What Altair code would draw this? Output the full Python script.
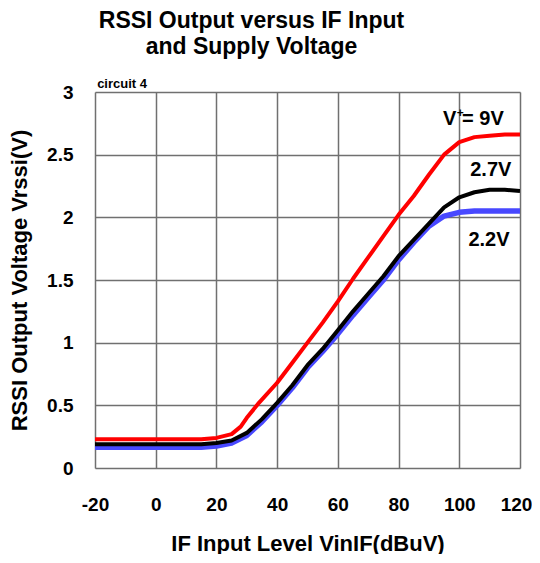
import altair as alt
import pandas as pd

# ---- data ----
x_9v = [-20, 0, 15, 20, 25, 28, 30, 34, 40, 45, 50, 55, 60, 65, 70, 75, 80, 85, 90, 95, 100, 105, 110, 115, 120]
y_9v = [0.23, 0.23, 0.23, 0.24, 0.27, 0.33, 0.40, 0.52, 0.68, 0.84, 1.00, 1.16, 1.33, 1.51, 1.68, 1.85, 2.02, 2.17, 2.34, 2.50, 2.60, 2.64, 2.65, 2.66, 2.66]

x_27v = [-20, 0, 15, 20, 25, 30, 35, 40, 45, 50, 55, 60, 65, 70, 75, 80, 85, 90, 95, 100, 105, 110, 115, 120]
y_27v = [0.19, 0.19, 0.19, 0.20, 0.22, 0.28, 0.39, 0.52, 0.66, 0.82, 0.95, 1.10, 1.25, 1.39, 1.53, 1.69, 1.82, 1.95, 2.08, 2.16, 2.20, 2.22, 2.22, 2.21]

x_22v = [-20, 0, 15, 20, 25, 30, 35, 40, 45, 50, 55, 60, 65, 70, 75, 80, 85, 90, 95, 100, 105, 110, 115, 120]
y_22v = [0.165, 0.165, 0.165, 0.175, 0.20, 0.26, 0.37, 0.50, 0.64, 0.80, 0.93, 1.07, 1.22, 1.36, 1.50, 1.66, 1.80, 1.93, 2.01, 2.04, 2.05, 2.05, 2.05, 2.05]

series_names = ["2.2V", "2.7V", "9V"]
series_colors = ["#4848ff", "#000000", "#ff0000"]

x_ticks = [-20, 0, 20, 40, 60, 80, 100, 120]
y_ticks = [0, 0.5, 1, 1.5, 2, 2.5, 3]

ann_text = ["V", "+", "= 9V", "2.7V", "2.2V"]
ann_x = [94.6, 99.2, 100.9, 103.6, 103.0]
ann_y = [2.74, 2.80, 2.74, 2.33, 1.77]
ann_size = [20, 12, 20, 20, 20]

FONT = "Liberation Sans"

rows = []
for name, xs, ys in [("2.2V", x_22v, y_22v), ("2.7V", x_27v, y_27v), ("9V", x_9v, y_9v)]:
    for i, (a, b) in enumerate(zip(xs, ys)):
        rows.append({"series": name, "x": a, "y": b, "order": i})
df = pd.DataFrame(rows)

ann = pd.DataFrame({"text": ann_text, "x": ann_x, "y": ann_y, "size": ann_size})
circ = pd.DataFrame({"text": ["circuit 4"], "x": [-19.3], "y": [3.0]})

xscale = alt.Scale(domain=[-20, 120], nice=False, zero=False)
yscale = alt.Scale(domain=[0, 3], nice=False)

xaxis = alt.Axis(values=x_ticks, title="IF Input Level VinIF(dBuV)", labelFont=FONT,
                 labelFontSize=19, labelFontWeight="bold", labelColor="#000",
                 labelExpr="'' + datum.value",
                 labelOffset={"condition": {"test": "datum.value == 120", "value": -4}, "value": 0},
                 titleFont=FONT, titleFontSize=22, titleFontWeight="bold", titleColor="#000",
                 labelPadding=27, titlePadding=19, tickSize=0, domain=False,
                 grid=True, gridColor="#707070", gridWidth=1.5, labelFlush=False)
yaxis = alt.Axis(values=y_ticks, title="RSSI Output Voltage Vrssi(V)", labelFont=FONT,
                 labelFontSize=19, labelFontWeight="bold", labelColor="#000",
                 labelExpr="'' + datum.value",
                 titleFont=FONT, titleFontSize=22, titleFontWeight="bold", titleColor="#000",
                 labelPadding=22, titlePadding=15, tickSize=0, domain=False,
                 grid=True, gridColor="#707070", gridWidth=1.5, labelFlush=False)


def line_for(name, color, width):
    return alt.Chart(df[df.series == name]).mark_line(
        color=color, strokeWidth=width, strokeJoin="round", strokeCap="butt", clip=True
    ).encode(
        x=alt.X("x:Q", scale=xscale, axis=xaxis),
        y=alt.Y("y:Q", scale=yscale, axis=yaxis),
        order="order:Q",
    )

l22 = line_for("2.2V", series_colors[0], 5.5)
l27 = line_for("2.7V", series_colors[1], 4)
l9 = line_for("9V", series_colors[2], 4)

texts = alt.Chart(ann).mark_text(
    font=FONT, fontWeight="bold", align="left", baseline="alphabetic", color="#000"
).encode(
    x=alt.X("x:Q", scale=xscale),
    y=alt.Y("y:Q", scale=yscale),
    text="text:N",
    size=alt.Size("size:Q", scale=None, legend=None),
)

ctext = alt.Chart(circ).mark_text(
    font=FONT, fontWeight="bold", fontSize=13, align="left", baseline="alphabetic", dy=-4, color="#000"
).encode(
    x=alt.X("x:Q", scale=xscale),
    y=alt.Y("y:Q", scale=yscale),
    text="text:N",
)

chart = alt.layer(l22, l27, l9, texts, ctext).properties(
    width=425,
    height=376,
    autosize=alt.AutoSizeParams(type="none"),
    padding={"left": 87, "top": 84, "right": 12, "bottom": 86},
    title=alt.TitleParams(
        text=["RSSI Output versus IF Input", "and Supply Voltage"],
        font=FONT, fontSize=23, fontWeight="bold", color="#000",
        anchor="middle", dx=-56, offset=19, lineHeight=26,
    ),
).configure_view(
    stroke="#222", strokeWidth=1.5
).configure(background="white")

chart.save("out.html", embed_options={"renderer": "svg", "actions": False})
